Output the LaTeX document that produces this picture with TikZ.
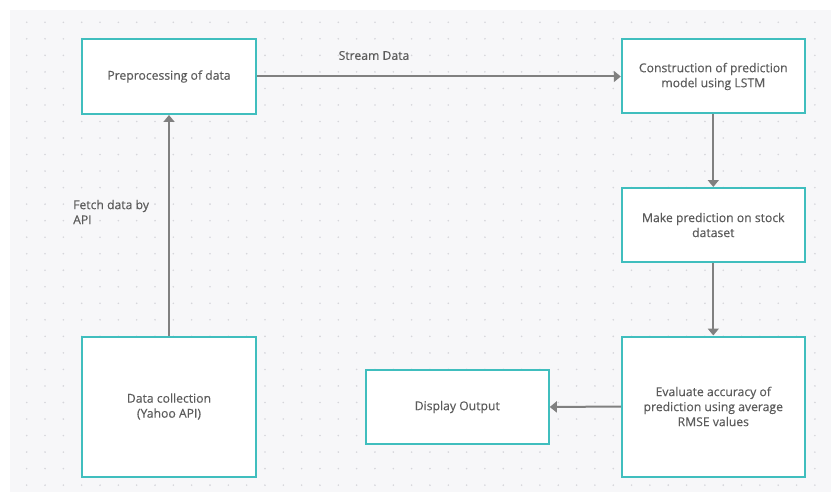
\documentclass[tikz,border=0pt]{standalone}
\usepackage{fontspec}
\setmainfont{Open Sans}[FakeBold=0.35]
\usetikzlibrary{arrows.meta}

\definecolor{panel}{HTML}{F7F7F9}
\definecolor{griddot}{HTML}{D6D6DB}
\definecolor{boxline}{HTML}{40BEBE}
\definecolor{linkline}{HTML}{808080}
\definecolor{txt}{HTML}{5C5C5C}

\tikzset{
  flowbox/.style={draw=boxline, line width=2pt, fill=white, align=center,
    text=txt, font=\fontsize{12.2}{15}\selectfont, inner sep=0pt},
  link/.style={draw=linkline, line width=2pt,
    -{Triangle[length=7pt,width=11pt]}},
  lbl/.style={text=txt, font=\fontsize{12.2}{15}\selectfont, inner sep=0pt}
}

\begin{document}
\begin{tikzpicture}[x=1pt,y=-1pt]
  \useasboundingbox (0,0) rectangle (831,495);
  \fill[white] (0,0) rectangle (831,495);
  \fill[panel] (10,10) rectangle (831,492);

  % dotted canvas grid
  \foreach \i in {0,...,43}{
    \foreach \j in {0,...,28}{
      \fill[griddot] ({26.7+18.33*\i},{22.3+16.53*\j}) circle (0.9);
    }
  }

  % process boxes
  \node[flowbox, minimum width=174pt, minimum height=75pt] (pre)  at (169,76.5)   {Preprocessing of data};
  \node[flowbox, minimum width=183pt, minimum height=74pt] (lstm) at (713.3,76.5) {Construction of prediction\\model using LSTM};
  \node[flowbox, minimum width=183pt, minimum height=74pt] (pred) at (713.3,225)  {Make prediction on stock\\dataset};
  \node[flowbox, minimum width=183pt, minimum height=140pt] (eval) at (713.3,406.5) {Evaluate accuracy of\\prediction using average\\RMSE values};
  \node[flowbox, minimum width=183pt, minimum height=74pt] (disp) at (457.3,407)  {Display Output};
  \node[flowbox, minimum width=174pt, minimum height=140pt] (coll) at (169,406.5)  {Data collection\\(Yahoo API)};

  % connectors
  \draw[link] (coll.north) -- (pre.south);
  \draw[link] (pre.east) -- (lstm.west);
  \draw[link] (lstm.south) -- (pred.north);
  \draw[link] (pred.south) -- (eval.north);
  \draw[link] (eval.west) -- (disp.east);

  % connector labels
  \node[lbl] (stream) at (374,55.5) {Stream Data};
  \node[lbl, align=left, anchor=west] (fetch) at (73,212) {Fetch data by\\API};
\end{tikzpicture}
\end{document}
